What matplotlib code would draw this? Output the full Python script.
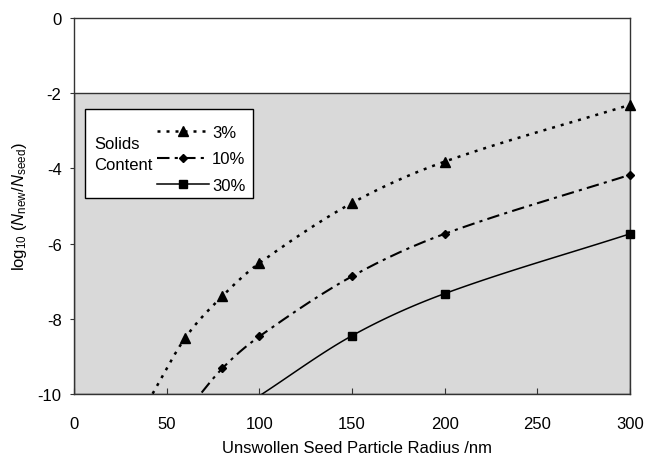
import numpy as np
import matplotlib
matplotlib.use("Agg")
import matplotlib.pyplot as plt
from matplotlib.lines import Line2D
from matplotlib.patches import Rectangle

plt.rcParams['font.family'] = ['Liberation Sans', 'DejaVu Sans']
plt.rcParams['mathtext.fontset'] = 'custom'
plt.rcParams['mathtext.rm'] = 'Liberation Sans'
plt.rcParams['mathtext.it'] = 'Liberation Sans:italic'
plt.rcParams['axes.unicode_minus'] = False

# datos (el primer punto de cada serie cae bajo el eje)
x_3 = [40, 60, 80, 100, 150, 200, 300]
y_3 = [-10.2, -8.51, -7.40, -6.52, -4.92, -3.82, -2.31]
x_10 = [60, 80, 100, 150, 200, 300]
y_10 = [-10.5, -9.32, -8.47, -6.87, -5.74, -4.17]
x_30 = [100, 150, 200, 300]
y_30 = [-10.05, -8.45, -7.33, -5.74]

etiquetas = ['3%', '10%', '30%']
x_ticks = [0, 50, 100, 150, 200, 250, 300]
y_ticks = [0, -2, -4, -6, -8, -10]

FS = 12


def suavizar(x, y, n=40):
    """Spline de Hermite con tangentes por diferencias (linea suavizada)."""
    x = np.asarray(x, float)
    y = np.asarray(y, float)
    m = np.zeros_like(y)
    m[1:-1] = (y[2:] - y[:-2]) / (x[2:] - x[:-2])
    m[0] = (y[1] - y[0]) / (x[1] - x[0])
    m[-1] = (y[-1] - y[-2]) / (x[-1] - x[-2])
    xs, ys = [], []
    t = np.linspace(0, 1, n)
    for i in range(len(x) - 1):
        h = x[i + 1] - x[i]
        h00 = 2 * t ** 3 - 3 * t ** 2 + 1
        h10 = t ** 3 - 2 * t ** 2 + t
        h01 = -2 * t ** 3 + 3 * t ** 2
        h11 = t ** 3 - t ** 2
        xs.extend(x[i] + t * h)
        ys.extend(h00 * y[i] + h10 * h * m[i] + h01 * y[i + 1] + h11 * h * m[i + 1])
    return np.array(xs), np.array(ys)


estilos = [
    dict(ls=(0, (1.2, 2.4)), lw=1.8, marker='^', ms=6.5),
    dict(ls=(0, (6, 2.5, 1.5, 2.5)), lw=1.5, marker='D', ms=4.5),
    dict(ls='-', lw=1.1, marker='s', ms=5.8),
]

fig = plt.figure(figsize=(6.47, 4.56), dpi=100)
ax = fig.add_axes([0.1144, 0.1338, 0.8593, 0.8245])

ax.axhspan(-10, -2, facecolor='#d9d9d9', edgecolor='#333333', lw=1.0, zorder=0)

handles = []
for (xs, ys), est, lab in zip([(x_3, y_3), (x_10, y_10), (x_30, y_30)], estilos, etiquetas):
    sx, sy = suavizar(xs, ys)
    ax.plot(sx, sy, color='black', ls=est['ls'], lw=est['lw'], zorder=3)
    ax.plot(xs[1:], ys[1:], ls='none', marker=est['marker'], ms=est['ms'],
            color='black', zorder=4, clip_on=False)
    handles.append(Line2D([], [], color='black', ls=est['ls'], lw=est['lw'],
                          marker=est['marker'], ms=est['ms'], label=lab))

ax.set_xlim(0, 300)
ax.set_ylim(-10, 0)
ax.set_xticks(x_ticks)
ax.set_yticks(y_ticks)
ax.tick_params(axis='x', direction='in', length=4, pad=15.5, labelsize=FS, color='#333333')
ax.tick_params(axis='y', direction='out', length=3, pad=6, labelsize=FS, color='#333333')
for s in ax.spines.values():
    s.set_color('#333333')
    s.set_linewidth(1.0)

ax.set_xlabel('Unswollen Seed Particle Radius /nm', fontsize=FS)
ax.xaxis.set_label_coords(0.509, -0.122)
ax.set_ylabel(r'log$_{10}$ ($N_\mathregular{new}$/$N_\mathregular{seed}$)', fontsize=FS, labelpad=6)

# recuadro de la leyenda
ax.add_patch(Rectangle((0.0198, 0.521), 0.302, 0.237, transform=ax.transAxes,
                       facecolor='white', edgecolor='black', lw=1.0, zorder=5))
ax.text(0.036, 0.638, 'Solids\nContent', transform=ax.transAxes, fontsize=FS,
        va='center', ha='left', linespacing=1.45, zorder=6)
leg = ax.legend(handles=handles, loc='upper left', bbox_to_anchor=(0.149, 0.716),
                frameon=False, fontsize=FS, handlelength=3.1, handletextpad=0.2,
                labelspacing=0.7, borderaxespad=0, borderpad=0)
leg.set_zorder(7)

plt.savefig('out.png', dpi=100)
